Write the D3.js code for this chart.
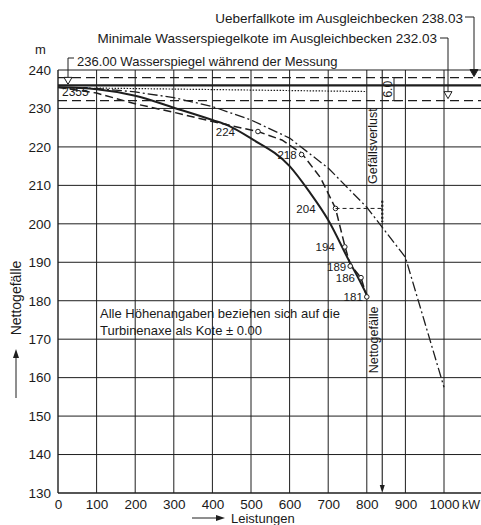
<!DOCTYPE html>
<html><head><meta charset="utf-8">
<script src="https://cdn.jsdelivr.net/npm/d3@7"></script>
<style>
html,body{margin:0;padding:0;background:#fff;}
svg text{font-family:"Liberation Sans",Arial,sans-serif;fill:#1a1a1a;}
</style></head>
<body><svg id="c" width="481" height="525"></svg>
<script>
// ---- data ----
const xTicks = [0,100,200,300,400,500,600,700,800,900,1000];
const yTicks = [130,140,150,160,170,180,190,200,210,220,230,240];
// solid curve (kW, m)
const solidKW = [0,100,200,300,400,440,500,600,650,700,756,780,800];
const solidH  = [235.5,235,233.3,230.2,227,225.6,222.2,215,208.5,201,190,185.5,181.5];
// dashed curve with measured points
const dashKW = [0,100,200,300,400,518,580,631,680,719,743,757,785,800];
const dashH  = [235.5,234,231.2,229,226.6,224,221.8,218.4,212,204,194.3,189.4,186,181];
const measKW = [518,631,719,743,757,785,800];
const measH  = [224,218,204,194,189,186,181];
// dash-dot curve
const ddKW = [0,100,200,300,400,500,600,700,800,900,1000];
const ddH  = [235.5,235.2,234.3,232.8,230.5,227,222.3,214.5,204.3,191.3,157.5];
// dotted water level during measurement
const dotKW = [100,800];
const dotH  = [235.3,234.4];
const levelOverflow = 238.03, levelMin = 232.03, levelMeas = 236.00;
const lossKW = 840;

// ---- layout ----
const svg = d3.select("#c");
const x = d3.scaleLinear().domain([0,1100]).range([58,482.6]);
const y = d3.scaleLinear().domain([130,240]).range([493,70]);
const ink = "#1e1e1e";

// grid
const g = svg.append("g");
g.selectAll(".vg").data(xTicks).join("line")
  .attr("x1",d=>x(d)).attr("x2",d=>x(d)).attr("y1",y(130)).attr("y2",y(240))
  .attr("stroke",ink).attr("stroke-width",d=>d===0?1.4:1);
g.selectAll(".hg").data(yTicks).join("line")
  .attr("x1",x(0)).attr("x2",481).attr("y1",d=>y(d)).attr("y2",d=>y(d))
  .attr("stroke",ink).attr("stroke-width",d=>(d===130)?1.4:1);

// axes labels via d3 axes (no domain / tick lines)
const xAxis = svg.append("g").attr("transform",`translate(0,${y(130)})`)
  .call(d3.axisBottom(x).tickValues(xTicks).tickFormat(d3.format("d")).tickSize(0).tickPadding(6));
const yAxis = svg.append("g").attr("transform",`translate(${x(0)},0)`)
  .call(d3.axisLeft(y).tickValues(yTicks).tickFormat(d3.format("d")).tickSize(0).tickPadding(7));
[xAxis,yAxis].forEach(a=>{a.select(".domain").remove();
  a.selectAll("text").attr("font-family","Liberation Sans, Arial, sans-serif").attr("font-size",13.5).attr("fill",ink);});
svg.append("text").attr("x",462).attr("y",509).attr("font-size",12.5).text("kW");
svg.append("text").attr("x",35).attr("y",54).attr("font-size",13).text("m");

// level lines
svg.append("line").attr("x1",x(0)).attr("x2",481).attr("y1",y(levelOverflow)).attr("y2",y(levelOverflow))
  .attr("stroke",ink).attr("stroke-width",1.2).attr("stroke-dasharray","9,5");
svg.append("line").attr("x1",x(0)).attr("x2",481).attr("y1",y(levelMin)).attr("y2",y(levelMin))
  .attr("stroke",ink).attr("stroke-width",1.2).attr("stroke-dasharray","9,5");
svg.append("line").attr("x1",x(0)).attr("x2",481).attr("y1",y(levelMeas)).attr("y2",y(levelMeas))
  .attr("stroke",ink).attr("stroke-width",2.2);
const pts = (a,b)=>a.map((v,i)=>[v,b[i]]);
const line = d3.line().x(d=>x(d[0])).y(d=>y(d[1]));
svg.append("path").attr("d",line(pts(dotKW,dotH))).attr("fill","none")
  .attr("stroke",ink).attr("stroke-width",1.2).attr("stroke-dasharray","1.5,1.5");

// curves
const curve = d3.line().x(d=>x(d[0])).y(d=>y(d[1])).curve(d3.curveMonotoneX);
svg.append("path").attr("d",line(pts(ddKW,ddH))).attr("fill","none")
  .attr("stroke",ink).attr("stroke-width",1.3).attr("stroke-dasharray","10,3,2,3");
svg.append("path").attr("d",line(pts(dashKW,dashH))).attr("fill","none")
  .attr("stroke",ink).attr("stroke-width",1.5).attr("stroke-dasharray","8,4");
svg.append("path").attr("d",curve(pts(solidKW,solidH))).attr("fill","none")
  .attr("stroke",ink).attr("stroke-width",2);

// measurement points
const mp = pts(measKW,measH);
svg.selectAll(".mp").data(mp).join("circle")
  .attr("cx",d=>x(d[0])).attr("cy",d=>y(d[1])).attr("r",2.3)
  .attr("fill","#fff").attr("stroke",ink).attr("stroke-width",1);
const labOff = [23,5,20,10,4,6,4];
svg.selectAll(".ml").data(mp).join("text")
  .attr("x",(d,i)=>x(d[0])-labOff[i]).attr("y",d=>y(d[1])+4.5)
  .attr("text-anchor","end").attr("font-size",11.5).text(d=>d[1]);
svg.append("text").attr("x",62).attr("y",96).attr("font-size",12).text("2355");

// dashed horizontal from 204 point to loss line
svg.append("line").attr("x1",x(719)).attr("x2",x(lossKW)).attr("y1",y(204)).attr("y2",y(204))
  .attr("stroke",ink).attr("stroke-width",1).attr("stroke-dasharray","4,3");
// loss line with arrow
svg.append("line").attr("x1",x(lossKW)).attr("x2",x(lossKW)).attr("y1",y(240)).attr("y2",y(130)-6)
  .attr("stroke",ink).attr("stroke-width",1.1);
svg.append("path").attr("d",`M${x(lossKW)-2.5},${y(130)-8}L${x(lossKW)+2.5},${y(130)-8}L${x(lossKW)},${y(130)}Z`).attr("fill",ink);
svg.append("line").attr("x1",x(lossKW)).attr("x2",x(lossKW)).attr("y1",y(206)).attr("y2",y(200.5))
  .attr("stroke",ink).attr("stroke-width",2.2).attr("stroke-dasharray","2,2");
svg.append("text").attr("transform",`translate(${x(lossKW)-5},${y(220.2)}) rotate(-90)`)
  .attr("text-anchor","middle").attr("font-size",12.5).text("Gefällsverlust");
svg.append("text").attr("transform",`translate(${x(lossKW)-4},${y(169.8)}) rotate(-90)`)
  .attr("text-anchor","middle").attr("font-size",12.5).text("Nettogefälle");

// 6.0 dimension
const dx6 = 394;
svg.append("line").attr("x1",dx6).attr("x2",dx6).attr("y1",y(levelOverflow)).attr("y2",y(levelMin)).attr("stroke",ink);
[levelOverflow,levelMin].forEach(v=>svg.append("line").attr("x1",dx6-2).attr("x2",dx6+7).attr("y1",y(v)).attr("y2",y(v)).attr("stroke",ink));
svg.append("text").attr("transform",`translate(392,${y(235)}) rotate(-90)`).attr("text-anchor","middle").attr("font-size",12).text("6.0");

// top annotations
function tri(cx,tipY,filled){
  svg.append("path").attr("d",`M${cx-4},${tipY-7}L${cx+4},${tipY-7}L${cx},${tipY}Z`)
    .attr("fill",filled?ink:"#fff").attr("stroke",ink).attr("stroke-width",1);
}
svg.append("text").attr("x",463).attr("y",23).attr("text-anchor","end").attr("font-size",13.5).text("Ueberfallkote im  Ausgleichbecken 238.03");
svg.append("path").attr("d",`M465,17H474V${y(levelOverflow)-6}`).attr("fill","none").attr("stroke",ink);
tri(474,y(levelOverflow)-1,true);
svg.append("text").attr("x",437).attr("y",43).attr("text-anchor","end").attr("font-size",13.5).text("Minimale  Wasserspiegelkote im Ausgleichbecken  232.03");
svg.append("path").attr("d",`M440,38H448V${y(levelMin)-6}`).attr("fill","none").attr("stroke",ink);
tri(448,y(levelMin)-2,false);
svg.append("text").attr("x",77).attr("y",66).attr("font-size",13).text("236.00 Wasserspiegel während der Messung");
svg.append("path").attr("d",`M74,58H68V${y(levelMeas)-6}`).attr("fill","none").attr("stroke",ink);
tri(68,y(levelMeas)-1,false);

// note
svg.append("text").attr("x",100).attr("y",318).attr("font-size",13).text("Alle Höhenangaben beziehen sich auf die");
svg.append("text").attr("x",100).attr("y",335).attr("font-size",13).text("Turbinenaxe als Kote ± 0.00");

// axis titles with arrows
svg.append("text").attr("transform","translate(21,298) rotate(-90)").attr("text-anchor","middle").attr("font-size",14).text("Nettogefälle");
svg.append("line").attr("x1",16).attr("x2",16).attr("y1",398).attr("y2",356).attr("stroke",ink);
svg.append("path").attr("d","M13,358L19,358L16,349Z").attr("fill",ink);
svg.append("text").attr("x",231).attr("y",523).attr("font-size",13).text("Leistungen");
svg.append("line").attr("x1",192).attr("x2",218).attr("y1",518).attr("y2",518).attr("stroke",ink);
svg.append("path").attr("d","M216,515L216,521L225,518Z").attr("fill",ink);
</script></body></html>
